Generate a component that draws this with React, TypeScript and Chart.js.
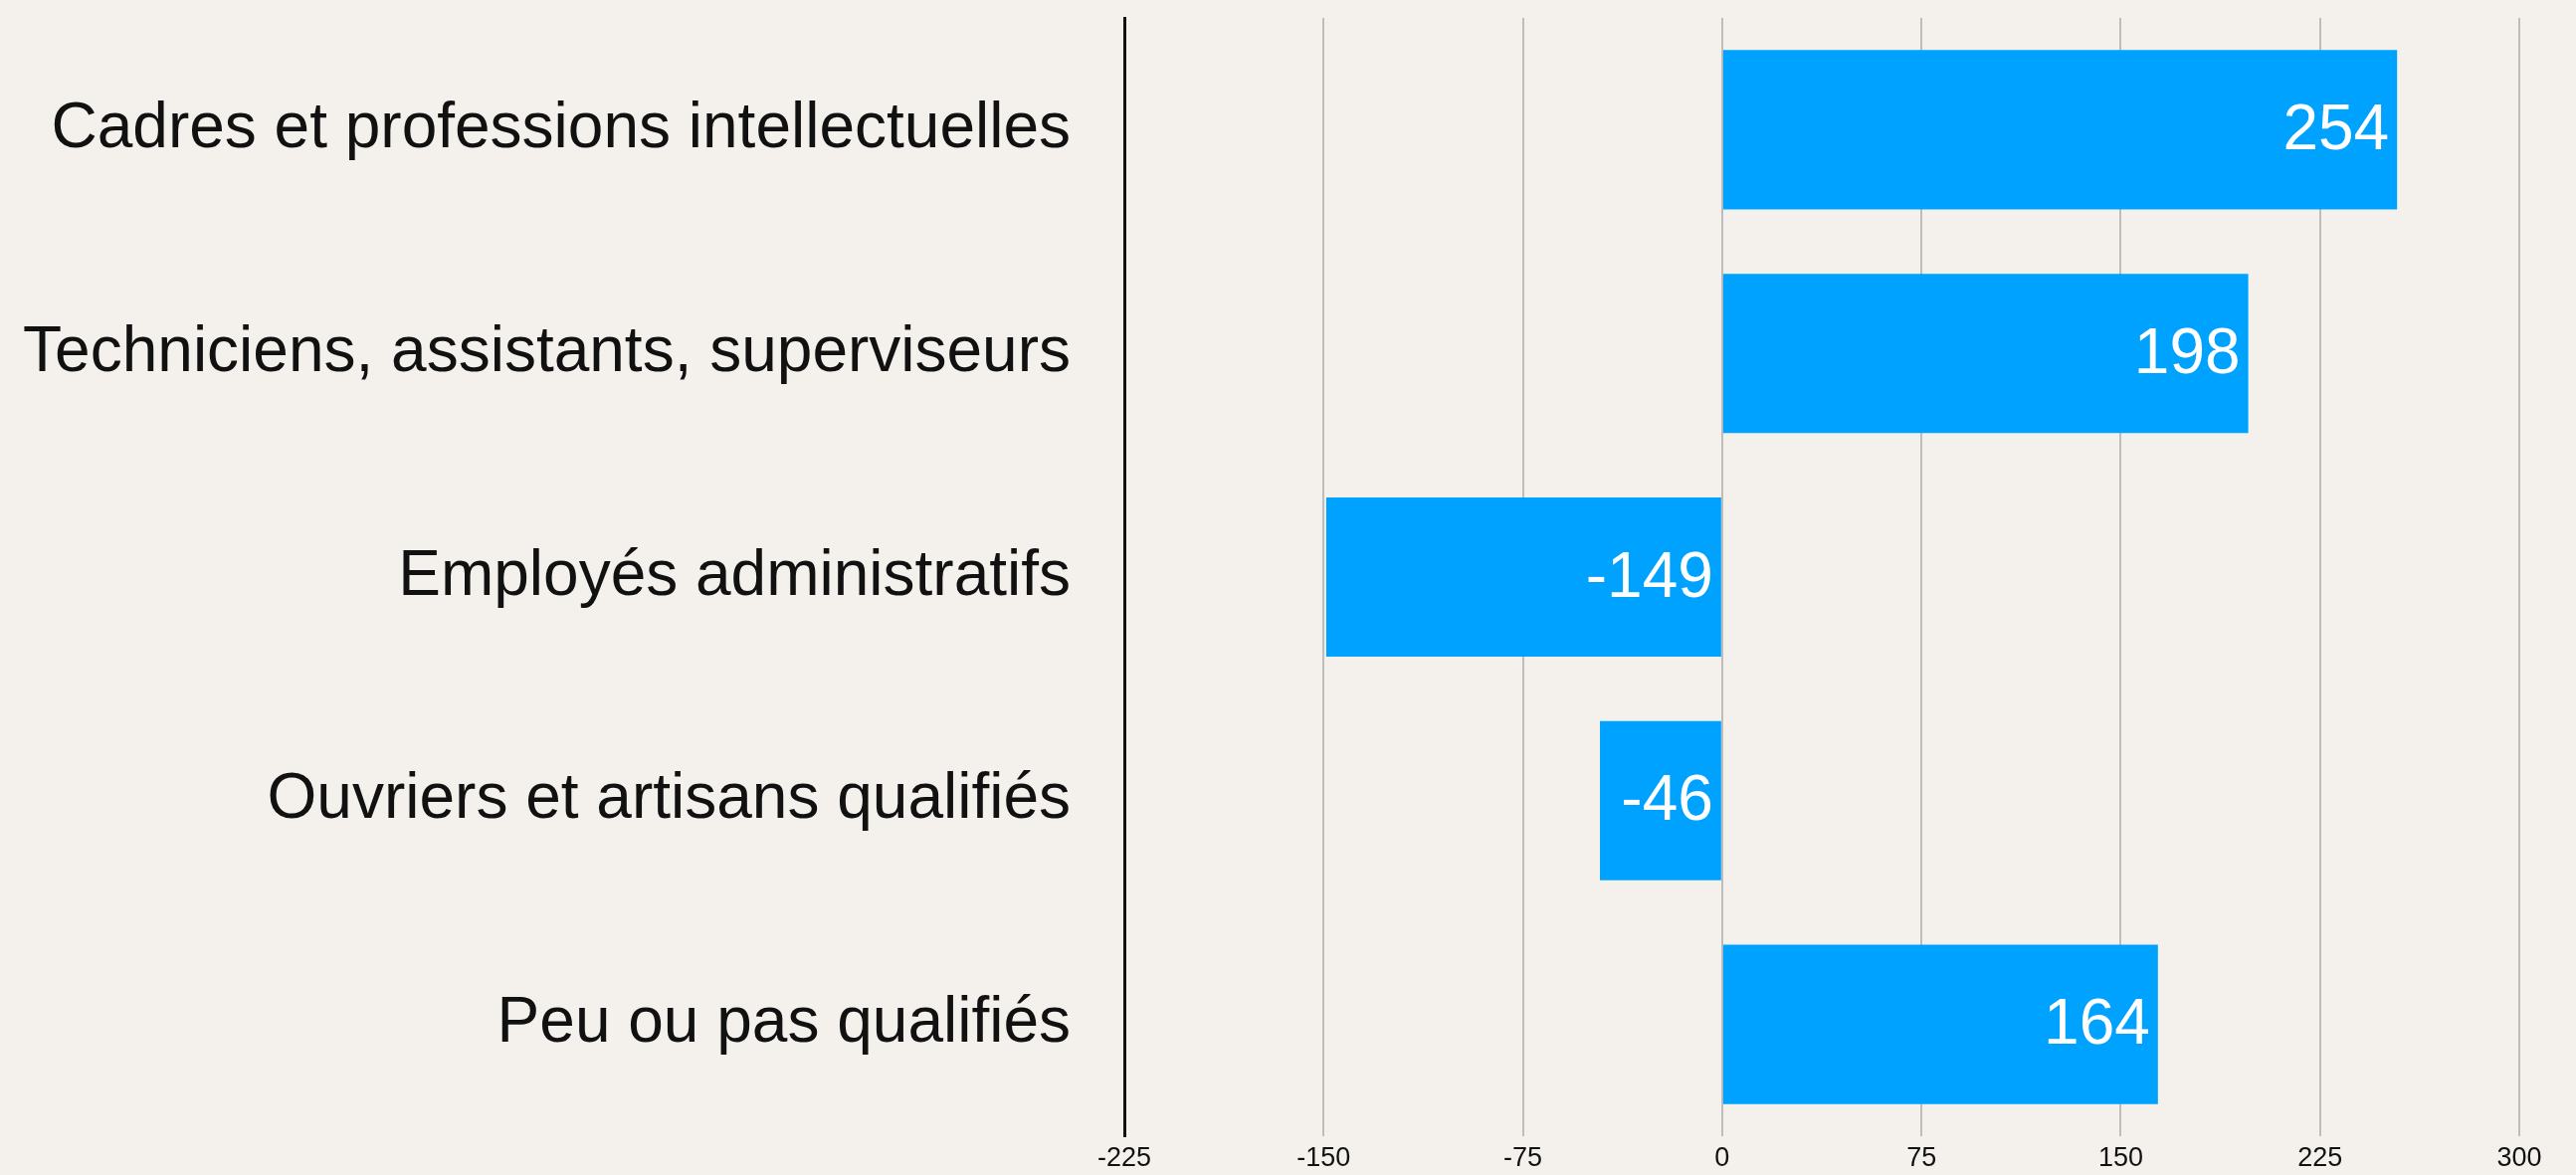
import React, { useEffect, useRef } from "react";
import { Chart, registerables } from "chart.js";

Chart.register(...registerables);

const categories = [
  "Cadres et professions intellectuelles",
  "Techniciens, assistants, superviseurs",
  "Employés administratifs",
  "Ouvriers et artisans qualifiés",
  "Peu ou pas qualifiés",
];
const values = [254, 198, -149, -46, 164];
const axisMin = -225;
const axisMax = 300;
const axisStep = 75;

const FONT = "'Liberation Sans', Arial, Helvetica, sans-serif";
const W = 2589;
const H = 1181;

const bgPlugin = {
  id: "bg",
  beforeDraw(chart: any) {
    const ctx = chart.ctx;
    ctx.save();
    ctx.fillStyle = "#f4f1ec";
    ctx.fillRect(0, 0, chart.width, chart.height);
    ctx.restore();
  },
};

const labelPlugin = {
  id: "barLabels",
  afterDatasetsDraw(chart: any) {
    const ctx = chart.ctx;
    const meta = chart.getDatasetMeta(0);
    const data = chart.data.datasets[0].data as number[];
    ctx.save();
    ctx.fillStyle = "#ffffff";
    ctx.font = `64px ${FONT}`;
    ctx.textAlign = "right";
    ctx.textBaseline = "middle";
    meta.data.forEach((el: any, i: number) => {
      const right = Math.max(el.x, el.base) - 8;
      ctx.fillText(String(data[i]), right, el.y + 2);
    });
    ctx.restore();
  },
};

export default function App() {
  const ref = useRef<HTMLCanvasElement | null>(null);

  useEffect(() => {
    document.body.style.margin = "0";
    document.body.style.background = "#f4f1ec";
    if (!ref.current) return;
    const chart = new Chart(ref.current, {
      type: "bar",
      data: {
        labels: categories,
        datasets: [
          {
            data: values,
            backgroundColor: "#00a2ff",
            borderWidth: 0,
            barPercentage: 0.712,
            categoryPercentage: 1,
          },
        ],
      },
      plugins: [bgPlugin, labelPlugin],
      options: {
        indexAxis: "y",
        responsive: false,
        animation: false,
        devicePixelRatio: 1,
        layout: { padding: { top: 18, right: 57, left: 0, bottom: 0 } },
        plugins: {
          legend: { display: false },
          tooltip: { enabled: false },
          title: { display: false },
        },
        scales: {
          x: {
            type: "linear",
            min: axisMin,
            max: axisMax,
            ticks: {
              stepSize: axisStep,
              color: "#111111",
              font: { family: FONT, size: 27 },
              padding: 6,
            },
            grid: {
              color: "#bdbdbd",
              lineWidth: 2,
              drawTicks: false,
            },
            border: { display: false },
            afterFit: (scale: any) => {
              scale.height = 39;
              scale.paddingLeft = 0;
              scale.paddingRight = 0;
            },
          },
          y: {
            ticks: {
              color: "#111111",
              font: { family: FONT, size: 64 },
              padding: 54,
            },
            grid: { display: false, drawTicks: false },
            border: { display: true, color: "#111111", width: 3 },
            afterFit: (scale: any) => {
              scale.width = 1130;
              scale.paddingTop = 0;
              scale.paddingBottom = 0;
            },
          },
        },
      } as any,
    });
    return () => chart.destroy();
  }, []);

  return (
    <div style={{ position: "absolute", left: 0, top: 0, width: W, height: H }}>
      <canvas ref={ref} width={W} height={H} style={{ display: "block" }} />
    </div>
  );
}
